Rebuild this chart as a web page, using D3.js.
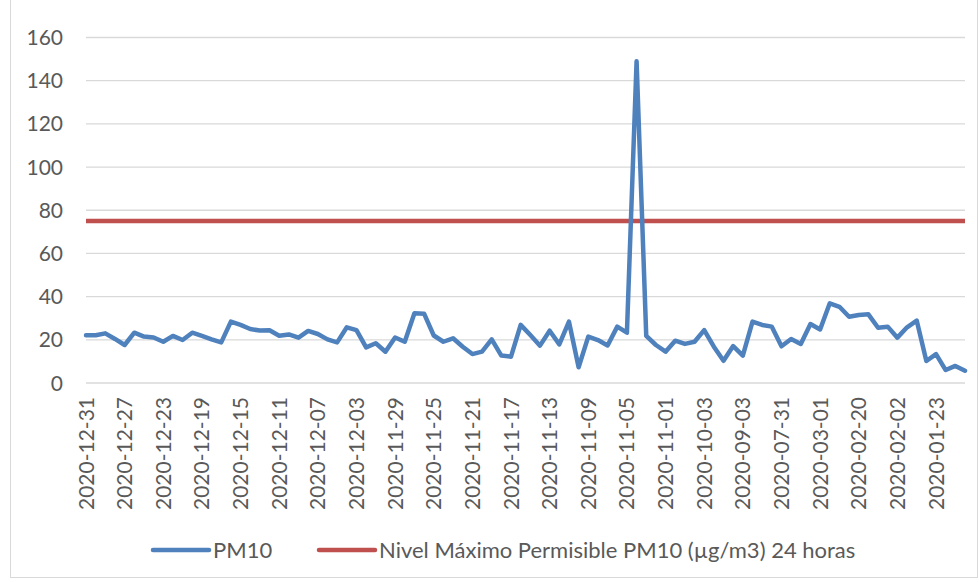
<!DOCTYPE html>
<html>
<head>
<meta charset="utf-8">
<script src="https://cdn.jsdelivr.net/npm/d3@7"></script>
<style>
  body { margin: 0; background: #fff; }
  text { font-family: Lato, "Open Sans", sans-serif; fill: #595959; }
</style>
</head>
<body>
<script>
// dates (categories), newest first; only every 4th one is shown on the axis
var dates = [
  "2020-12-31","2020-12-30","2020-12-29","2020-12-28","2020-12-27","2020-12-26","2020-12-25","2020-12-24",
  "2020-12-23","2020-12-22","2020-12-21","2020-12-20","2020-12-19","2020-12-18","2020-12-17","2020-12-16",
  "2020-12-15","2020-12-14","2020-12-13","2020-12-12","2020-12-11","2020-12-10","2020-12-09","2020-12-08",
  "2020-12-07","2020-12-06","2020-12-05","2020-12-04","2020-12-03","2020-12-02","2020-12-01","2020-11-30",
  "2020-11-29","2020-11-28","2020-11-27","2020-11-26","2020-11-25","2020-11-24","2020-11-23","2020-11-22",
  "2020-11-21","2020-11-20","2020-11-19","2020-11-18","2020-11-17","2020-11-16","2020-11-15","2020-11-14",
  "2020-11-13","2020-11-12","2020-11-11","2020-11-10","2020-11-09","2020-11-08","2020-11-07","2020-11-06",
  "2020-11-05","2020-11-04","2020-11-03","2020-11-02","2020-11-01","2020-10-25","2020-10-17","2020-10-10",
  "2020-10-03","2020-09-25","2020-09-17","2020-09-10","2020-09-03","2020-08-25","2020-08-17","2020-08-10",
  "2020-07-31","2020-07-10","2020-05-15","2020-04-01","2020-03-01","2020-02-28","2020-02-26","2020-02-23",
  "2020-02-20","2020-02-15","2020-02-10","2020-02-05","2020-02-02","2020-01-31","2020-01-29","2020-01-26",
  "2020-01-23","2020-01-19","2020-01-15","2020-01-10"
];

var pm10 = [
  22.1, 22.1, 23.0, 20.4, 17.6, 23.3, 21.5, 21.1, 19.1, 21.8,
  19.9, 23.3, 21.8, 20.2, 18.8, 28.4, 26.9, 25.0, 24.3, 24.4,
  21.9, 22.5, 21.0, 24.1, 22.7, 20.2, 18.8, 25.8, 24.5, 16.5,
  18.4, 14.5, 21.1, 19.1, 32.3, 32.1, 22.0, 19.1, 20.7, 16.8,
  13.4, 14.5, 20.2, 12.7, 12.2, 26.9, 22.2, 17.3, 24.2, 17.9,
  28.4, 7.3, 21.5, 19.9, 17.4, 26.1, 23.3, 149, 21.8, 17.6,
  14.5, 19.6, 18.1, 19.1, 24.5, 16.8, 10.3, 17.1, 12.7, 28.4,
  26.9, 26.1, 17.0, 20.4, 18.1, 27.3, 24.8, 36.9, 35.3, 30.7,
  31.5, 31.8, 25.6, 26.1, 21.0, 25.8, 28.9, 10.2, 13.4, 6.0,
  7.9, 5.7
];

var limit = 75;
var yTicks = [0, 20, 40, 60, 80, 100, 120, 140, 160];
var seriesNames = ["PM10", "Nivel Máximo Permisible PM10 (µg/m3) 24 horas"];
var colors = ["#4f81bd", "#c0504d"];

var W = 979, H = 582;
var plot = {left: 86, right: 965, top: 37.5, bottom: 383};

var svg = d3.select("body").append("svg")
    .attr("width", W)
    .attr("height", H);

// chart frame
svg.append("rect")
    .attr("x", 10.5).attr("y", -1)
    .attr("width", 967).attr("height", 578.5)
    .attr("fill", "none")
    .attr("stroke", "#d9d9d9");

var x = d3.scalePoint().domain(dates).range([plot.left, plot.right]);
var y = d3.scaleLinear().domain([0, 160]).range([plot.bottom, plot.top]);

// gridlines
svg.append("g")
  .selectAll("line")
  .data(yTicks)
  .join("line")
    .attr("x1", plot.left).attr("x2", plot.right)
    .attr("y1", function(d) { return y(d); })
    .attr("y2", function(d) { return y(d); })
    .attr("stroke", "#d9d9d9")
    .attr("stroke-width", 1.3);

// y axis labels
svg.append("g")
  .selectAll("text")
  .data(yTicks)
  .join("text")
    .attr("x", 63)
    .attr("y", function(d) { return y(d); })
    .attr("dy", "0.36em")
    .attr("text-anchor", "end")
    .style("font-size", "21px")
    .text(function(d) { return d; });

// x axis labels, every 4th date
svg.append("g")
  .selectAll("text")
  .data(dates.filter(function(d, i) { return i % 4 === 0; }))
  .join("text")
    .attr("transform", function(d) {
      return "translate(" + x(d) + "," + (plot.bottom + 14) + ") rotate(-90)";
    })
    .attr("dy", "0.36em")
    .attr("text-anchor", "end")
    .style("font-size", "21px")
    .text(function(d) { return d; });

// limit line
svg.append("line")
    .attr("x1", plot.left).attr("x2", plot.right)
    .attr("y1", y(limit)).attr("y2", y(limit))
    .attr("stroke", colors[1])
    .attr("stroke-width", 4.5);

// PM10 line
var line = d3.line()
    .x(function(d, i) { return x(dates[i]); })
    .y(function(d) { return y(d); });

svg.append("path")
    .datum(pm10)
    .attr("d", line)
    .attr("fill", "none")
    .attr("stroke", colors[0])
    .attr("stroke-width", 4.5)
    .attr("stroke-linejoin", "round")
    .attr("stroke-linecap", "round");

// legend
var legendX = [153, 319];
var legend = svg.append("g")
  .selectAll("g")
  .data(seriesNames)
  .join("g")
    .attr("transform", function(d, i) { return "translate(" + legendX[i] + ",550)"; });

legend.append("line")
    .attr("x1", 0).attr("x2", 56)
    .attr("stroke", function(d, i) { return colors[i]; })
    .attr("stroke-width", 4.5)
    .attr("stroke-linecap", "round");

legend.append("text")
    .attr("x", 60)
    .attr("dy", "0.36em")
    .style("font-size", "22px")
    .text(function(d) { return d; });
</script>
</body>
</html>
